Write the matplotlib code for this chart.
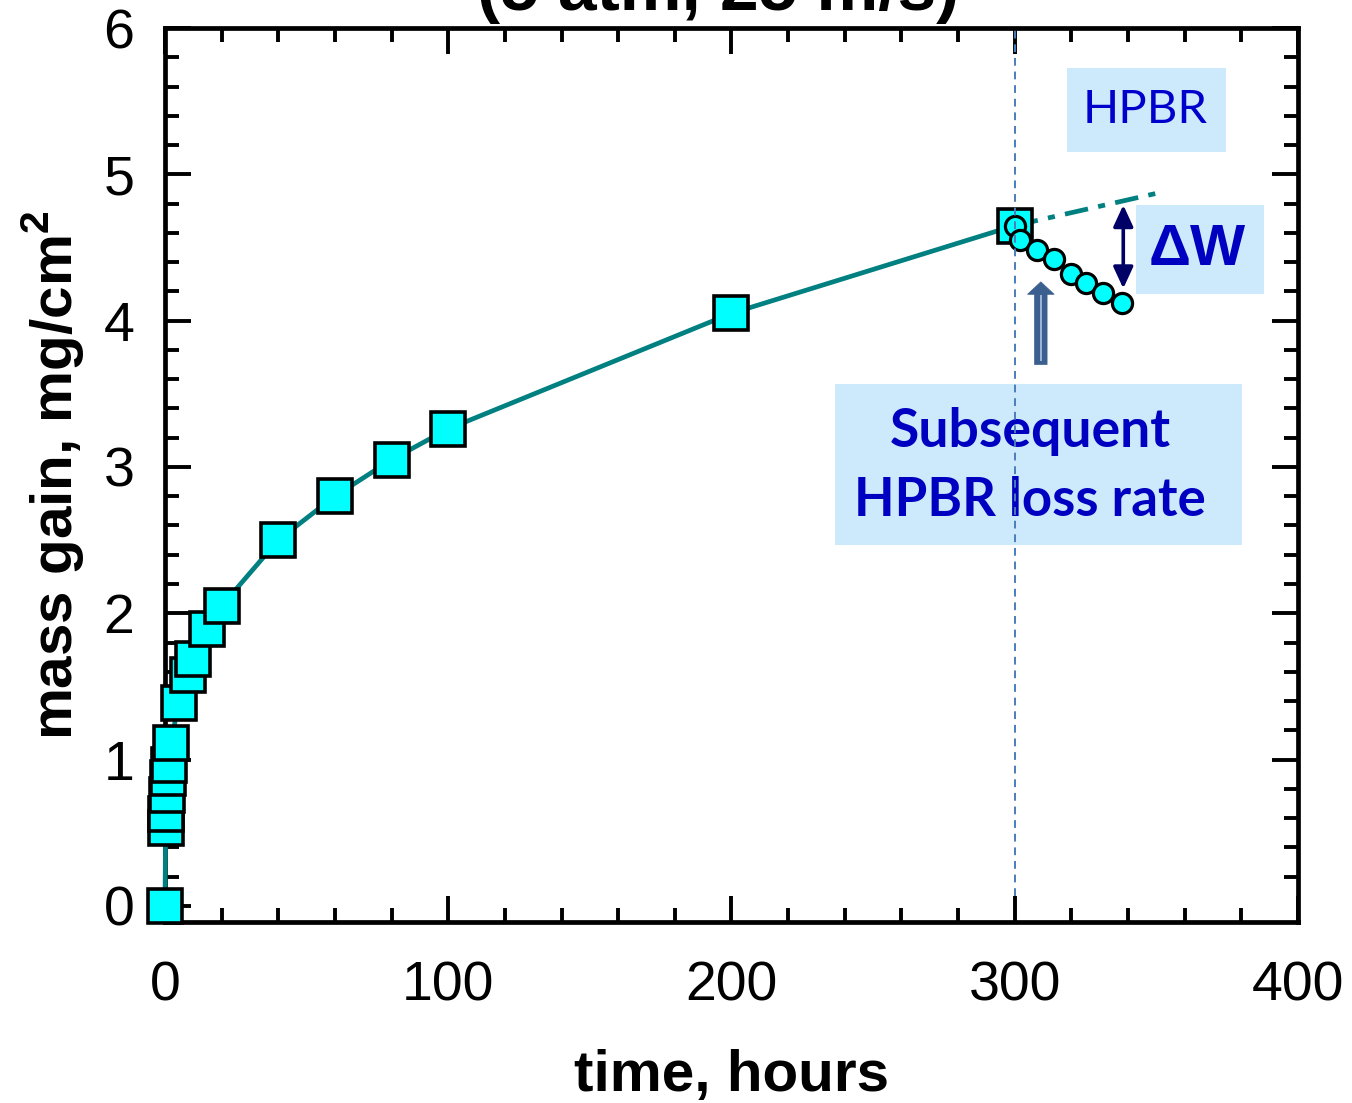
import numpy as np
import matplotlib
matplotlib.use("Agg")
import matplotlib.pyplot as plt
from matplotlib.patches import Rectangle, FancyArrow

# oxidation (mass gain) data, squares
t_ox = [0, 0.25, 0.5, 0.75, 1.0, 1.5, 2, 5, 8, 10, 15, 20, 40, 60, 80, 100, 200, 300]
w_ox = [0, 0.53, 0.63, 0.755, 0.875, 0.965, 1.115, 1.39, 1.575, 1.69, 1.895, 2.05,
        2.50, 2.80, 3.05, 3.26, 4.05, 4.65]

# subsequent HPBR exposure, circles
t_hp = [300, 302, 308, 314, 320, 325, 331, 338]
w_hp = [4.65, 4.55, 4.48, 4.42, 4.32, 4.26, 4.19, 4.12]

# extrapolated parabolic growth (dash-dot)
t_ext = [300, 350]
w_ext = [4.65, 4.87]

plt.rcParams['font.family'] = ['Liberation Sans', 'DejaVu Sans']
plt.rcParams['mathtext.fontset'] = 'custom'
plt.rcParams['mathtext.rm'] = 'Liberation Sans'
plt.rcParams['mathtext.bf'] = 'Liberation Sans:bold'

fig = plt.figure(figsize=(13.52, 11.03), dpi=100)
ax = fig.add_axes([0.1220, 0.1641, 0.8381, 0.8105])

teal = '#008080'
cyan = '#00ffff'
box_col = '#cdeafc'
calibri_like = ['Lato', 'DejaVu Sans']

ax.plot(t_ext, w_ext, color=teal, lw=3.4, ls=(0, (5, 2.2, 1.5, 2.2)), zorder=2)
ax.plot(t_ox, w_ox, color=teal, lw=3.4, zorder=3, marker='s', ms=25,
        mfc=cyan, mec='black', mew=2.6, clip_on=False)
ax.plot(t_hp, w_hp, color='black', lw=1.5, zorder=4, marker='o', ms=14.5,
        mfc=cyan, mec='black', mew=2.3, clip_on=False)

# vertical dashed marker at start of HPBR
ax.vlines(300, 0.07, 6, colors='#4a7ebb', lw=1.4, linestyles=(0, (4, 3)), zorder=8)

# annotation boxes
ax.add_patch(Rectangle((318.4, 5.15), 56.2, 0.58, fc=box_col, ec='none', zorder=1))
ax.text(346.0, 5.44, 'HPBR', family=calibri_like, fontsize=34,
        color='#0000cc', ha='center', va='center', zorder=5)

ax.add_patch(Rectangle((342.8, 4.18), 45.2, 0.61, fc=box_col, ec='none', zorder=1))
ax.text(364.5, 4.48, '\u0394W', fontsize=42, fontweight='bold',
        color='#0000c0', ha='center', va='center', zorder=5)

ax.add_patch(Rectangle((236.4, 2.468), 143.8, 1.097, fc=box_col, ec='none', zorder=1))
ax.text(305.4, 3.245, 'Subsequent', family=calibri_like, fontsize=38.5,
        fontweight='bold', color='#0000c0', ha='center', va='center', zorder=5)
ax.text(305.4, 2.77, 'HPBR loss rate', family=calibri_like, fontsize=38,
        fontweight='bold', color='#0000c0', ha='center', va='center', zorder=5)

# delta W double arrow
ax.annotate('', xy=(338.3, 4.79), xytext=(338.3, 4.22),
            arrowprops=dict(arrowstyle='<|-|>,head_length=1.3,head_width=0.6',
                            color='#000066', lw=2.6, shrinkA=0, shrinkB=0), zorder=6)

# block arrow pointing at HPBR data
ax.add_patch(FancyArrow(309.2, 3.70, 0, 0.565, width=4.4, head_width=9.4,
                        head_length=0.085, length_includes_head=True,
                        fc='#3b5f8f', ec='#3b5f8f', lw=0.5, zorder=6))
ax.plot([309.2, 309.2], [3.73, 4.17], color='#9bb8dc', lw=1.4, zorder=7)

ax.set_xlim(0, 400)
ax.set_ylim(-0.11, 6)
ax.set_xticks(np.arange(0, 401, 100))
ax.set_xticks(np.arange(0, 401, 20), minor=True)
ax.set_yticks(np.arange(0, 7, 1))
ax.set_yticks(np.arange(0, 6.01, 0.2), minor=True)

ax.tick_params(which='both', direction='in', top=True, right=True, width=2.8)
ax.tick_params(which='major', length=19, labelsize=40)
ax.tick_params(which='minor', length=10)
ax.tick_params(axis='x', which='major', pad=28)
ax.tick_params(axis='y', which='major', pad=22)
ax.yaxis.get_major_ticks()[0].tick2line.set_visible(False)
for s in ax.spines.values():
    s.set_linewidth(3.4)

ax.set_xlabel('time, hours', fontsize=42, fontweight='bold', va='center')
ax.xaxis.set_label_coords(0.5, -0.172)
ax.set_ylabel(r'mass gain, mg/cm$^{\mathbf{2}}$', fontsize=42, fontweight='bold', va='center')
ax.yaxis.set_label_coords(-0.098, 0.5)

# title, cropped at the top edge in the original
fig.text(0.531, 1 - 10 / 1103, '(5 atm, 25 m/s)', fontsize=50, fontweight='bold',
         ha='center', va='baseline')

fig.savefig('out.png', dpi=100)
